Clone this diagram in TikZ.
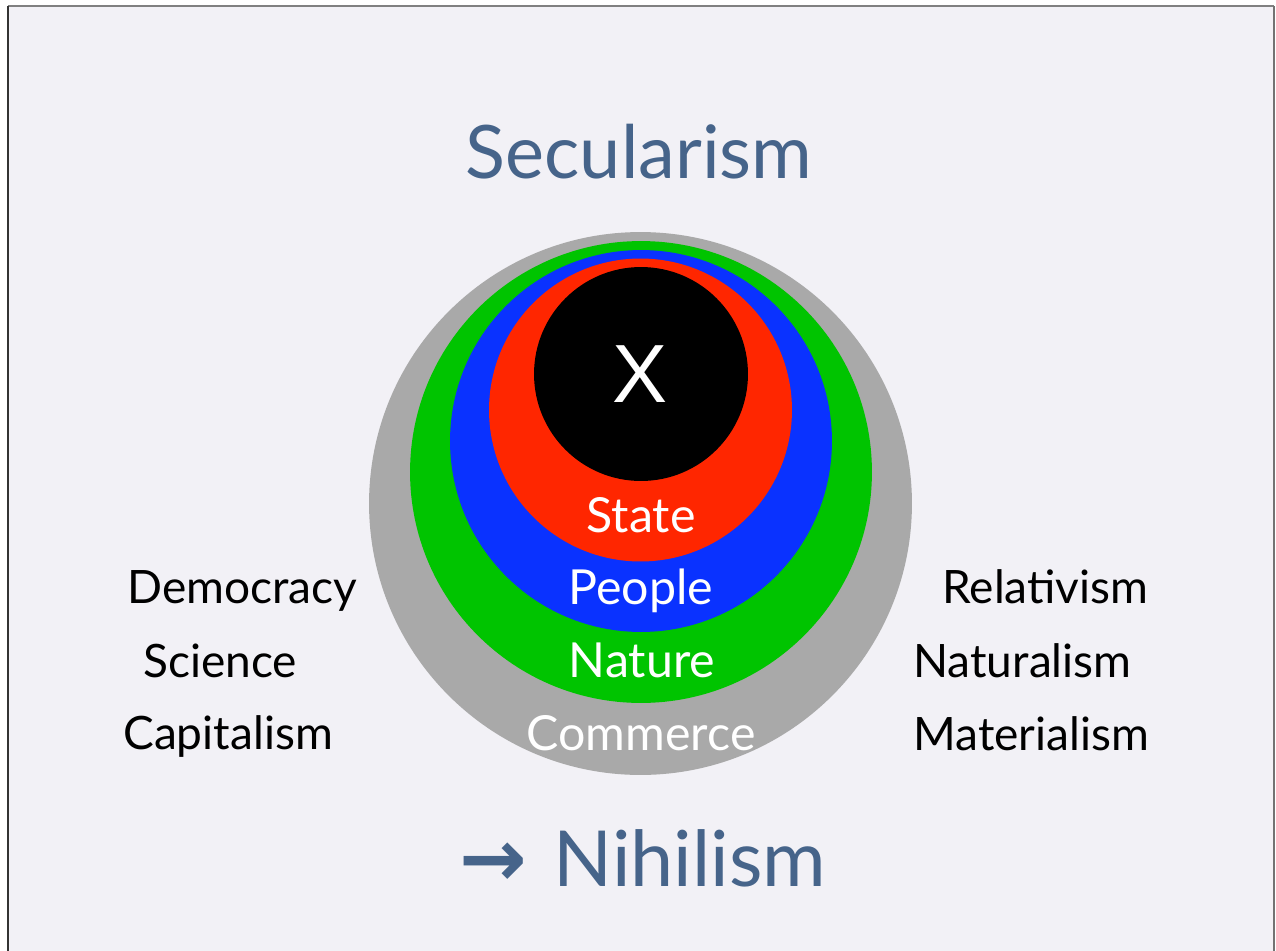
\documentclass[tikz,border=0pt]{standalone}
\usepackage{fontspec}
\setmainfont{Lato}
\newfontfamily\arrowfont{DejaVu Sans}
\newfontfamily\xfont{Liberation Sans}
\usepackage{xcolor}
\definecolor{slide}{RGB}{242,241,246}
\definecolor{titleblue}{RGB}{70,100,138}
\definecolor{ringgray}{RGB}{169,169,169}
\definecolor{ringgreen}{RGB}{0,196,0}
\definecolor{ringblue}{RGB}{10,50,255}
\definecolor{ringred}{RGB}{255,38,0}
\tikzset{
	heading/.style={anchor=base,text=titleblue,font=\fontsize{42}{48}\selectfont,inner sep=0pt},
	side/.style={anchor=base west,text=black,font=\fontsize{26.2}{30}\selectfont,inner sep=0pt},
	ring/.style={anchor=base,text=white,font=\fontsize{27.5}{32}\selectfont,inner sep=0pt}
}

\begin{document}
\begin{tikzpicture}[x=0.02cm,y=-0.02cm]
						\useasboundingbox (0,0) rectangle (1276,951);
						\fill[slide] (8,6) rectangle (1274,951);
						\draw[gray,line width=1.1pt] (8,6) -- (1274,6);
						\draw[black!80,line width=1pt] (8,6) -- (8,951);
						\draw[black!55,line width=0.8pt] (1274,6) -- (1274,951);
						
						\coordinate (G) at (640.5,503.5);
						\coordinate (N) at (641,472);
						\coordinate (P) at (641,441);
						\coordinate (S) at (640.5,410);
						\coordinate (X) at (641,374);
						
						\fill[ringgray] (G) circle [radius=5.43cm];
						\fill[ringgreen] (N) circle [radius=4.62cm];
						\fill[ringblue] (P) circle [radius=3.82cm];
						\fill[ringred] (S) circle [radius=3.03cm];
						\fill[black] (X) circle [radius=2.14cm];
						
						\node (x) at (640,402) [anchor=base,text=white,inner sep=0pt,font=\xfont\fontsize{47}{52}\selectfont] {X};
						\node (state) at (641,532) [ring] {State};
						\node (people) at (641,604) [ring] {People};
						\node (nature) at (642,677) [ring] {Nature};
						\node (commerce) at (641,750) [ring] {Commerce};
						
						\node (secularism) at (639,178) [heading] {Secularism};
						\node (nihilism) at (643,886) [heading] {{\arrowfont\bfseries\fontsize{46}{50}\selectfont →}\hspace{0.35em}\fontsize{44}{50}\selectfont Nihilism};
						
						\node (democracy) at (127,603) [side] {Democracy};
						\node (science) at (143,677) [side] {Science};
						\node (capitalism) at (123,749) [side] {Capitalism};
						\node (relativism) at (942,603) [side] {Relativism};
						\node (naturalism) at (913,677) [side] {Naturalism};
						\node (materialism) at (913,750) [side] {Materialism};
					\end{tikzpicture}
\end{document}
